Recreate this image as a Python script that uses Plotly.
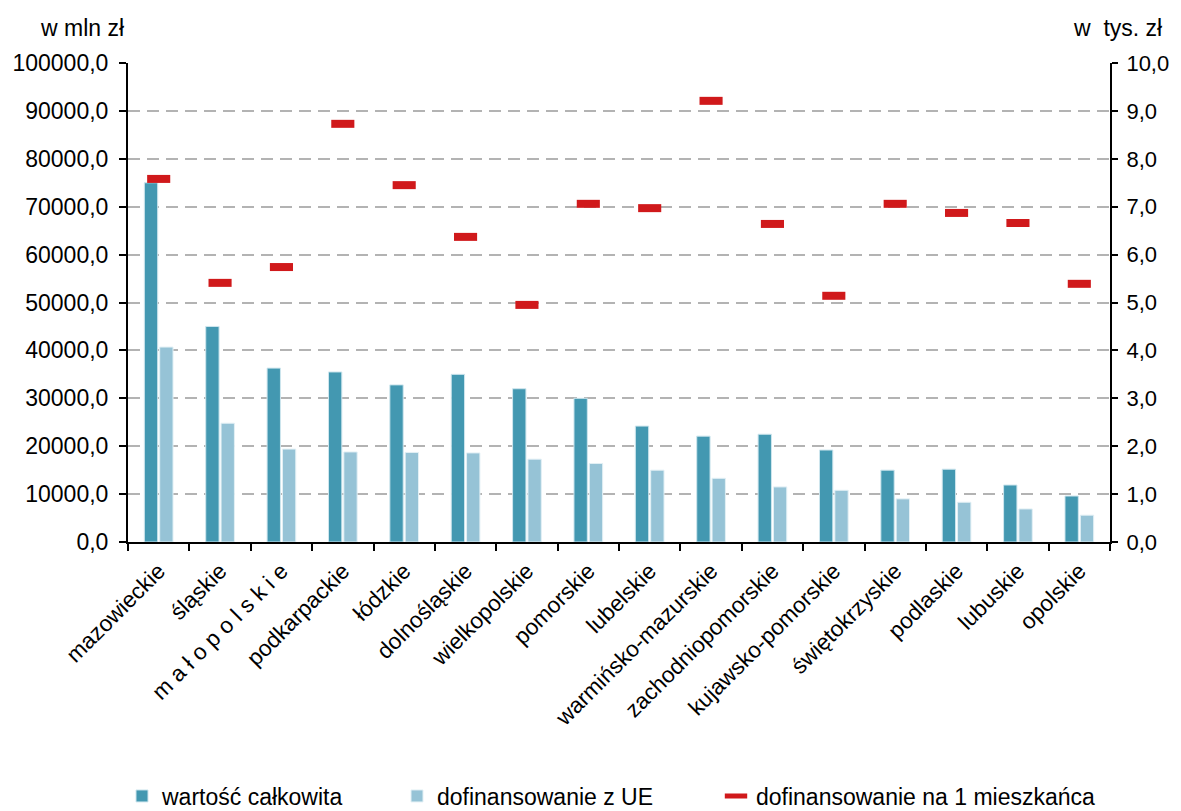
import plotly.graph_objects as go

categories = ["mazowieckie", "śląskie", "m a ł o p o l s k i e", "podkarpackie", "łódzkie",
              "dolnośląskie", "wielkopolskie", "pomorskie", "lubelskie", "warmińsko-mazurskie",
              "zachodniopomorskie", "kujawsko-pomorskie", "świętokrzyskie", "podlaskie",
              "lubuskie", "opolskie"]
total_value = [75000, 45000, 36300, 35500, 32800, 35000, 32000, 30000, 24200, 22100,
               22500, 19200, 15000, 15200, 11900, 9600]
eu_funding = [40700, 24800, 19400, 18800, 18700, 18600, 17300, 16400, 15000, 13300,
              11500, 10800, 9000, 8300, 6900, 5600]
per_capita = [7.58, 5.41, 5.74, 8.73, 7.45, 6.37, 4.95, 7.06, 6.97, 9.21,
              6.64, 5.14, 7.06, 6.87, 6.66, 5.39]

left_tickvals = [0, 10000, 20000, 30000, 40000, 50000, 60000, 70000, 80000, 90000, 100000]
left_ticktext = ["0,0", "10000,0", "20000,0", "30000,0", "40000,0", "50000,0",
                 "60000,0", "70000,0", "80000,0", "90000,0", "100000,0"]
right_tickvals = [0, 1, 2, 3, 4, 5, 6, 7, 8, 9, 10]
right_ticktext = ["0,0", "1,0", "2,0", "3,0", "4,0", "5,0", "6,0", "7,0", "8,0", "9,0", "10,0"]

FONT = "Liberation Sans, Arial, sans-serif"
FS = 23

# the page body has an 8px default margin; compensate so the figure lands where the reference is
OFF = 8
FIG_W, FIG_H = 1181 - OFF, 811 - OFF
# plot-area geometry in reference pixels
L, R, T, B = 128, 1110, 63, 542
W, H = R - L, B - T


def px_x(p):
    return (p - L) / W


def px_y(p):
    return (B - p) / H


fig = go.Figure()
fig.add_trace(go.Bar(x=categories, y=total_value, name="wartość całkowita", legend="legend",
                     marker=dict(color="#4398b1", line=dict(color="#cfe6ee", width=1))))
fig.add_trace(go.Bar(x=categories, y=eu_funding, name="dofinansowanie z UE", legend="legend2",
                     marker=dict(color="#96c3d6", line=dict(color="#e3f0f5", width=1))))
fig.add_trace(go.Scatter(x=categories, y=per_capita, name="dofinansowanie na 1 mieszkańca",
                         legend="legend3", yaxis="y2", mode="markers",
                         marker=dict(symbol="line-ew", size=16.5,
                                     line=dict(color="#d0191b", width=8))))

leg_common = dict(orientation="h", xanchor="left", yanchor="middle", y=px_y(796),
                  font=dict(size=FS), itemwidth=30, bgcolor="rgba(0,0,0,0)")

fig.update_layout(
    width=FIG_W, height=FIG_H,
    margin=dict(l=L - OFF, r=FIG_W - (R - OFF), t=T - OFF, b=FIG_H - (B - OFF), autoexpand=False),
    paper_bgcolor="white", plot_bgcolor="white",
    font=dict(family=FONT, size=FS, color="black"),
    barmode="group", bargap=0.5, bargroupgap=0.13,
    showlegend=True,
    legend=dict(x=px_x(122), **leg_common),
    legend2=dict(x=px_x(397), **leg_common),
    legend3=dict(x=px_x(716), **leg_common),
    xaxis=dict(type="category", range=[-0.5, len(categories) - 0.5],
               showline=True, linecolor="black", linewidth=2,
               ticks="outside", tickson="boundaries", ticklen=7, tickwidth=2, tickcolor="black",
               tickangle=-45, tickfont=dict(size=FS - 0.5), showgrid=False, zeroline=False,
               ticklabelstandoff=5, automargin=False),
    yaxis=dict(range=[0, 100000], tickvals=left_tickvals, ticktext=left_ticktext,
               showline=True, linecolor="black", linewidth=2, ticks="outside",
               ticklen=7, tickwidth=2, tickcolor="black",
               showgrid=True, gridcolor="#b3b3b3", griddash="12px,7px", gridwidth=1.5,
               zeroline=False, tickfont=dict(size=FS), ticklabelstandoff=6, automargin=False),
    yaxis2=dict(range=[0, 10], tickvals=right_tickvals, ticktext=right_ticktext,
                overlaying="y", side="right", showline=True, linecolor="black", linewidth=2,
                ticks="outside", ticklen=6, tickwidth=2, tickcolor="black",
                showgrid=False, zeroline=False, tickfont=dict(size=FS - 1),
                ticklabelstandoff=4, automargin=False),
    annotations=[
        dict(text="w mln zł", xref="paper", yref="paper", x=px_x(82), y=px_y(28),
             xanchor="center", yanchor="middle", showarrow=False, font=dict(size=FS)),
        dict(text="w\u00a0 tys. zł", xref="paper", yref="paper", x=px_x(1117), y=px_y(28),
             xanchor="center", yanchor="middle", showarrow=False, font=dict(size=FS)),
    ],
)

fig.write_html("out.html")
